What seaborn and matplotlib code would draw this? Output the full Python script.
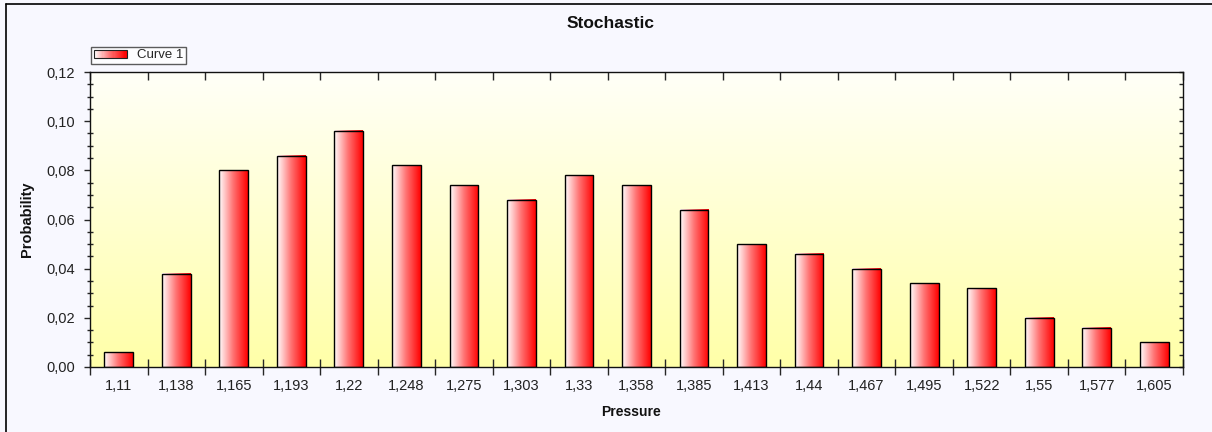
import numpy as np
import pandas as pd
import matplotlib.pyplot as plt
import seaborn as sns
from matplotlib.patches import Rectangle
from matplotlib.lines import Line2D
from matplotlib.colors import LinearSegmentedColormap
from matplotlib.legend_handler import HandlerBase
from matplotlib.ticker import MultipleLocator, FuncFormatter, NullFormatter

# dados
pressure = ["1,11", "1,138", "1,165", "1,193", "1,22", "1,248", "1,275", "1,303", "1,33", "1,358",
            "1,385", "1,413", "1,44", "1,467", "1,495", "1,522", "1,55", "1,577", "1,605"]
probability = [0.006, 0.038, 0.080, 0.086, 0.096, 0.082, 0.074, 0.068, 0.078, 0.074,
               0.064, 0.050, 0.046, 0.040, 0.034, 0.032, 0.020, 0.016, 0.010]

W, H = 1212, 432
BAR_CMAP = LinearSegmentedColormap.from_list("bar", ["#ffffff", "#ff7070", "#ff0000"])
BG_CMAP = LinearSegmentedColormap.from_list("bg", ["#ffffa8", "#fffff8"])


class GradientHandler(HandlerBase):
    # retângulo da legenda em degradê branco -> vermelho
    def create_artists(self, legend, orig_handle, xdescent, ydescent, width, height, fontsize, trans):
        arts = []
        n = 30
        for i in range(n):
            arts.append(Rectangle((-xdescent + i * width / n, -ydescent), width / n + 0.2, height,
                                  facecolor=BAR_CMAP(i / (n - 1)), edgecolor="none", transform=trans))
        arts.append(Rectangle((-xdescent, -ydescent), width, height, facecolor="none",
                              edgecolor="#222222", lw=0.8, transform=trans))
        return arts


def main():
    sns.set_style("white")
    plt.rcParams["font.family"] = ["Liberation Sans", "DejaVu Sans"]

    df = pd.DataFrame({"Pressure": pressure, "Probability": probability})

    fig = plt.figure(figsize=(W / 100, H / 100), dpi=100, facecolor="#f8f8ff")
    ax = fig.add_axes([90 / W, 1 - 367 / H, (1183 - 90) / W, (367 - 72) / H])

    sns.barplot(data=df, x="Pressure", y="Probability", width=0.5, color="red",
                edgecolor="black", linewidth=1.0, ax=ax, zorder=3)

    # fundo em degradê
    grad = np.linspace(0, 1, 256).reshape(-1, 1)
    ax.imshow(grad, cmap=BG_CMAP, origin="lower", extent=[0, 1, 0, 1], transform=ax.transAxes,
              aspect="auto", zorder=0)

    # barras em degradê horizontal
    hgrad = np.linspace(0, 1, 256).reshape(1, -1)
    for p in ax.patches:
        x, w, h = p.get_x(), p.get_width(), p.get_height()
        ax.imshow(hgrad, cmap=BAR_CMAP, extent=[x, x + w, 0, h], aspect="auto", zorder=2)
        p.set_facecolor("none")

    n = len(pressure)
    ax.set_xlim(-0.5, n - 0.5)
    ax.set_ylim(0, 0.12)

    for s in ax.spines.values():
        s.set_color("#111111")
        s.set_linewidth(1.0)

    ax.yaxis.set_major_locator(MultipleLocator(0.02))
    ax.yaxis.set_minor_locator(MultipleLocator(0.005))
    ax.yaxis.set_major_formatter(FuncFormatter(lambda v, _: f"{v:.2f}".replace(".", ",")))
    ax.set_xticks(np.arange(-0.5, n, 1.0), minor=True)

    ax.tick_params(axis="x", which="major", length=0, pad=9, labelsize=10.5, labelcolor="#222222")
    ax.tick_params(axis="x", which="minor", direction="inout", length=12, width=1,
                   top=False, bottom=True)
    ax.tick_params(axis="y", which="major", direction="out", length=4, width=1, pad=7,
                   labelsize=10.5, labelcolor="#222222", left=True, right=False)
    ax.tick_params(axis="y", which="minor", direction="inout", length=5, width=1,
                   left=True, right=False)

    # eixos secundários: ticks para dentro no topo e à direita
    top = ax.secondary_xaxis("top")
    top.set_xticks(np.arange(-0.5, n, 1.0))
    top.xaxis.set_major_formatter(NullFormatter())
    top.tick_params(direction="in", length=6, width=1)
    top.spines["top"].set_visible(False)

    right = ax.secondary_yaxis("right")
    right.yaxis.set_major_locator(MultipleLocator(0.005))
    right.yaxis.set_major_formatter(NullFormatter())
    right.tick_params(direction="in", length=3, width=1)
    right.spines["right"].set_visible(False)

    ax.set_xlabel("")
    ax.set_ylabel("")

    fig.text(611 / W, 1 - 24 / H, "Stochastic", ha="center", va="center",
             fontsize=12.5, weight="bold", color="#111111")
    fig.text(631 / W, 1 - 412 / H, "Pressure", ha="center", va="center",
             fontsize=10, weight="bold", color="#111111")
    fig.text(27 / W, 1 - 219 / H, "Probability", ha="center", va="center", rotation=90,
             fontsize=10.5, weight="bold", color="#111111")

    # legenda
    leg = ax.legend([Rectangle((0, 0), 1, 1)], ["Curve 1"],
                    handler_map={Rectangle: GradientHandler()},
                    loc="lower left", bbox_to_anchor=(91 / W, 1 - 64 / H),
                    bbox_transform=fig.transFigure, borderaxespad=0, fontsize=9.5,
                    frameon=True, fancybox=False, handlelength=2.5, handleheight=0.55,
                    handletextpad=0.8, borderpad=0.2)
    leg.get_frame().set_edgecolor("#333333")
    leg.get_frame().set_linewidth(1.0)
    leg.get_frame().set_facecolor("white")

    # moldura externa
    fig.add_artist(Line2D([6 / W, 6 / W], [0, 1 - 4 / H], transform=fig.transFigure, color="black", lw=1.2))
    fig.add_artist(Line2D([6 / W, 1], [1 - 4 / H, 1 - 4 / H], transform=fig.transFigure, color="black", lw=1.2))

    fig.savefig("out.png", dpi=100, facecolor=fig.get_facecolor())
    plt.close(fig)


if __name__ == "__main__":
    main()
